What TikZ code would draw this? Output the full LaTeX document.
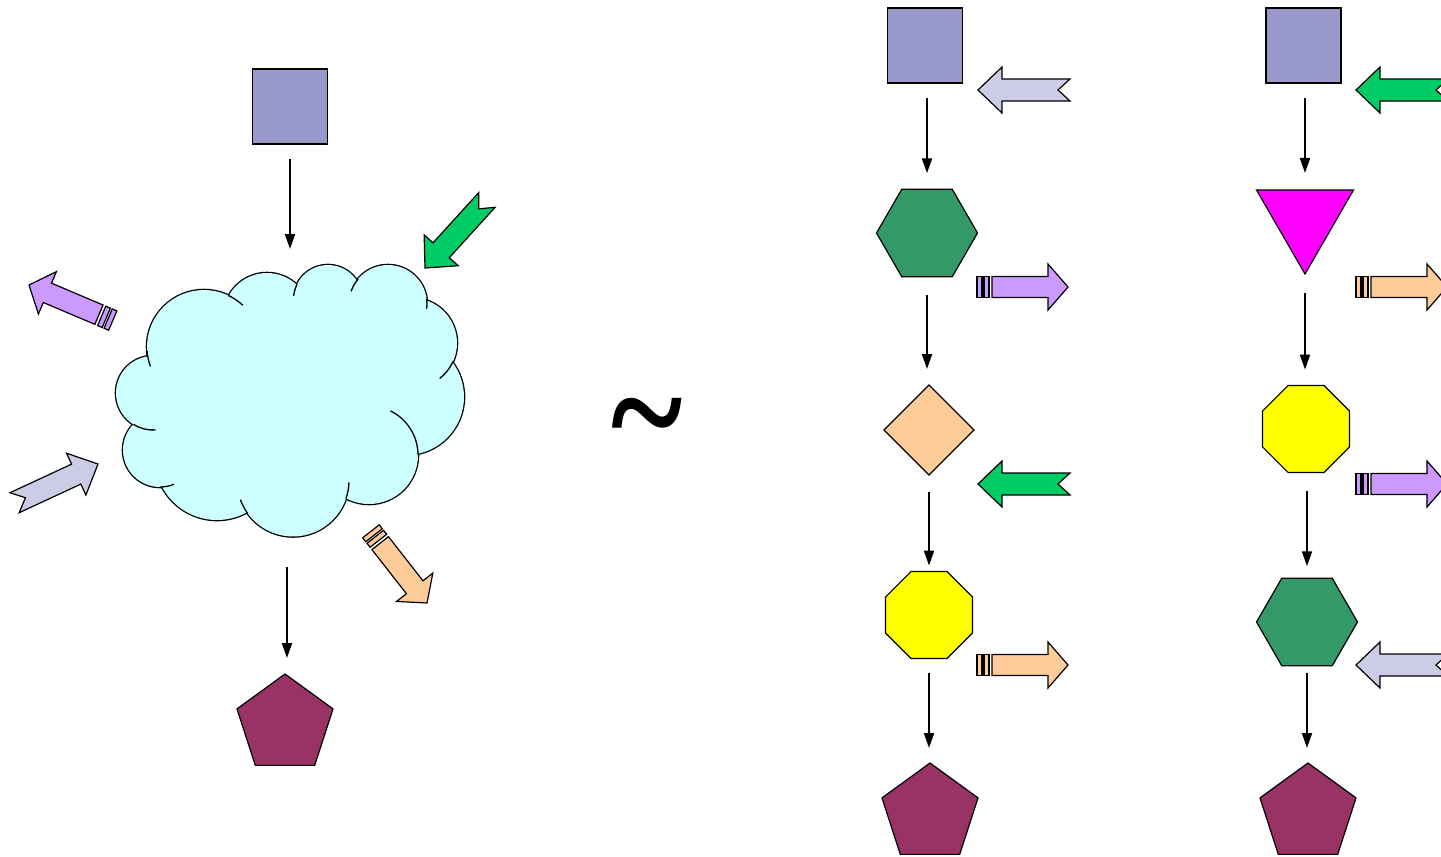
\documentclass[tikz,border=0pt]{standalone}
\usepackage{fontspec}
\newfontfamily\tildefont{Liberation Serif}
\usetikzlibrary{shapes.geometric,arrows.meta,calc}

\definecolor{sqblue}{HTML}{9999CC}
\definecolor{hexgreen}{HTML}{339966}
\definecolor{peach}{HTML}{FFCC99}
\definecolor{octyellow}{HTML}{FFFF00}
\definecolor{plum}{HTML}{993366}
\definecolor{magenta}{HTML}{FF00FF}
\definecolor{brightgreen}{HTML}{00CC66}
\definecolor{lavender}{HTML}{CCCCE6}
\definecolor{violet}{HTML}{CC99FF}
\definecolor{cloudcyan}{HTML}{CCFFFF}

\tikzset{
  shapebox/.style={draw=black, line width=1.2pt, inner sep=0pt, outer sep=0pt},
  squarebox/.style={shapebox, rectangle, minimum size=75pt, fill=sqblue},
  hexbox/.style={shapebox, regular polygon, regular polygon sides=6, minimum size=101pt, fill=hexgreen},
  octbox/.style={shapebox, regular polygon, regular polygon sides=8, minimum size=94pt, fill=octyellow},
  pentbox/.style={shapebox, regular polygon, regular polygon sides=5, minimum size=101pt, fill=plum},
  diabox/.style={shapebox, regular polygon, regular polygon sides=4, shape border rotate=45, minimum size=90pt, fill=peach},
  tribox/.style={shapebox, regular polygon, regular polygon sides=3, shape border rotate=180, minimum size=112pt, fill=magenta},
  conn/.style={line width=2pt, -{Triangle[length=15pt,width=10pt]}},
  blockarrow/.style={draw=black, line width=1.2pt, line join=miter},
  cloudline/.style={line width=1.3pt},
  % block arrow with a swallow-tail notch, tip at the origin, pointing along +x
  notcharrow/.pic={
    \path[pic actions] (0,0) -- (-24,-23) -- (-24,-11) -- (-92,-11) -- (-80,0)
      -- (-92,11) -- (-24,11) -- (-24,23) -- cycle;
  },
  % block arrow with two stripes at its tail, tip at the origin, pointing along +x
  stripearrow/.pic={
    \path[pic actions] (0,0) -- (-20,-23) -- (-20,-10.5) -- (-76,-10.5)
      -- (-76,10.5) -- (-20,10.5) -- (-20,23) -- cycle;
    \path[pic actions] (-84,-10.5) rectangle (-79,10.5);
    \path[pic actions] (-91,-10.5) rectangle (-86,10.5);
  },
}

\newcommand\cloudcrease[5]{%
  \draw[cloudline] ([shift={(#4:#3)}]#1,#2) arc[start angle=#4, end angle=#5, radius=#3];}

\begin{document}
\begin{tikzpicture}[x=1pt, y=-1pt]
\useasboundingbox (0,0) rectangle (1441,857);

% ---------- left figure: source, cloud, sink ----------
\node[squarebox] (lsq) at (290,106.5) {};
\node[pentbox] (lpent) at (285,724.5) {};

% cloud: thick circles underneath, fills on top leave the outer border
\foreach \cx/\cy/\r in {204/347/57, 267/316.5/43.5, 328/299.5/34.5, 388/304/39,
    412/343/45, 406/397/58, 369/455/49, 293/480.5/56, 217/458/62, 160/450/37, 153/393/37}
  \draw[line width=2.6pt] (\cx,\cy) circle[radius=\r];
\foreach \cx/\cy/\r in {204/347/57, 267/316.5/43.5, 328/299.5/34.5, 388/304/39,
    412/343/45, 406/397/58, 369/455/49, 293/480.5/56, 217/458/62, 160/450/37, 153/393/37}
  \fill[cloudcyan] (\cx,\cy) circle[radius=\r];
\coordinate (cc) at (290,400);
\fill[cloudcyan] ($(cc)!0.93!(147,357)$) -- ($(cc)!0.93!(230,295)$) -- ($(cc)!0.93!(297,285)$)
  -- ($(cc)!0.93!(355,278)$) -- ($(cc)!0.93!(425,300)$) -- ($(cc)!0.93!(453,363)$)
  -- ($(cc)!0.93!(418,454)$) -- ($(cc)!0.93!(347,497)$) -- ($(cc)!0.93!(247,512)$)
  -- ($(cc)!0.93!(162,487)$) -- ($(cc)!0.93!(133,427)$) -- cycle;
% creases where the puffs meet
\cloudcrease{204}{347}{57}{176}{160}
\cloudcrease{204}{347}{57}{-65}{-47}
\cloudcrease{328}{299.5}{34.5}{206}{186}
\cloudcrease{388}{304}{39}{220}{199}
\cloudcrease{388}{304}{39}{-8}{7}
\cloudcrease{412}{343}{45}{24}{52}
\cloudcrease{369}{455}{49}{0}{-64}
\cloudcrease{293}{480.5}{56}{19}{2}
\cloudcrease{293}{480.5}{56}{144}{160}
\cloudcrease{160}{450}{37}{90}{68}
\cloudcrease{153}{393}{37}{122}{86}

\coordinate (cloudin) at (290,249);
\coordinate (cloudout) at (287,567);
\draw[conn, shorten <=15pt] (lsq.south) -- (cloudin);
\draw[conn, shorten >=16pt] (cloudout) -- (cloudout |- lpent.north);

% block arrows round the cloud (rotation is measured on the page, counter-clockwise)
\pic[blockarrow, fill=brightgreen, rotate=-132.3] at (425,268) {notcharrow};
\pic[blockarrow, fill=violet, rotate=157] at (29,285) {stripearrow};
\pic[blockarrow, fill=lavender, rotate=24.9] at (98,464) {notcharrow};
\pic[blockarrow, fill=peach, rotate=-52] at (427,603) {stripearrow};

% ---------- the relation sign ----------
\node[inner sep=0pt] (tilde) at (647,432)
  {\tildefont\bfseries\fontsize{137}{140}\selectfont\scalebox{1}[1.16]{\char"7E}};

% ---------- first chain ----------
\node[squarebox] (a1) at (925,45.5) {};
\node[hexbox] (a2) at (927,233) {};
\node[diabox] (a3) at (929,430) {};
\node[octbox] (a4) at (929,615) {};
\node[pentbox] (a5) at (930,813.5) {};
\draw[conn, shorten <=15pt, shorten >=16pt] (a2.north |- a1.south) -- (a2.north);
\draw[conn, shorten <=18pt, shorten >=16pt] (a2.south) -- (a2.south |- a3.north);
\draw[conn, shorten <=17pt, shorten >=6pt] (a3.south) -- (a3.south |- a4.north);
\draw[conn, shorten <=15pt, shorten >=15pt] (a4.south) -- (a4.south |- a5.north);

\pic[blockarrow, fill=lavender, rotate=180] at (978,90) {notcharrow};
\pic[blockarrow, fill=violet] at (1068,287) {stripearrow};
\pic[blockarrow, fill=brightgreen, rotate=180] at (978,484) {notcharrow};
\pic[blockarrow, fill=peach] at (1068,665) {stripearrow};

% ---------- second chain ----------
\node[squarebox] (b1) at (1303.5,45.5) {};
\node[tribox] (b2) at (1305,218) {};
\node[octbox] (b3) at (1306,429) {};
\node[hexbox] (b4) at (1307,622) {};
\node[pentbox] (b5) at (1308,813.5) {};
\draw[conn, shorten <=15pt, shorten >=17pt] (b2.north |- b1.south) -- (b2.north);
\draw[conn, shorten <=19pt, shorten >=16pt] (b2.south) -- (b2.south |- b3.north);
\draw[conn, shorten <=19pt, shorten >=12pt] (b4.north |- b3.south) -- (b4.north);
\draw[conn, shorten <=7pt, shorten >=15pt] (b4.south) -- (b4.south |- b5.north);

\pic[blockarrow, fill=brightgreen, rotate=180] at (1356,90) {notcharrow};
\pic[blockarrow, fill=peach] at (1447,287) {stripearrow};
\pic[blockarrow, fill=violet] at (1447,484) {stripearrow};
\pic[blockarrow, fill=lavender, rotate=180] at (1356,665) {notcharrow};
\end{tikzpicture}
\end{document}
